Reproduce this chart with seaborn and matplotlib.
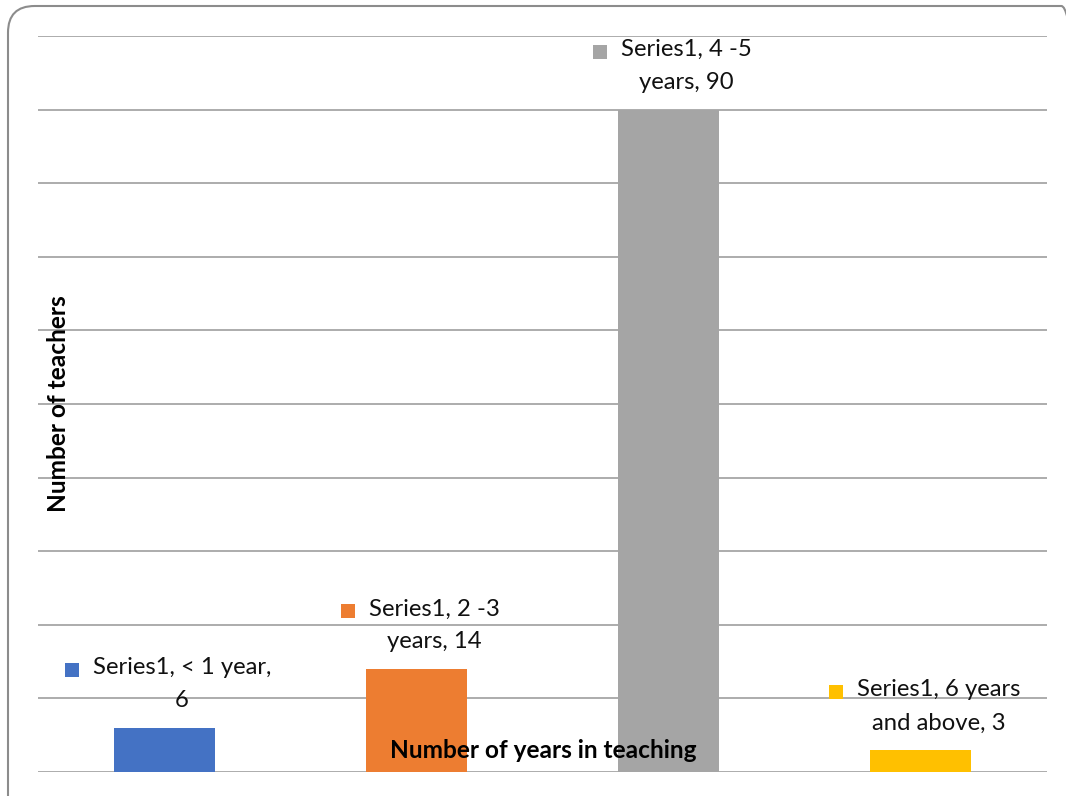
import numpy as np
import pandas as pd
import matplotlib
matplotlib.use("Agg")
import matplotlib.pyplot as plt
from matplotlib.patches import FancyBboxPatch, Rectangle
import seaborn as sns

# data
categories = ["< 1 year", "2 -3 years", "4 -5 years", "6 years and above"]
teachers = [6, 14, 90, 3]
colors = ["#4472c4", "#ed7d31", "#a5a5a5", "#ffc000"]
label_line1 = ["Series1, < 1 year,", "Series1, 2 -3", "Series1, 4 -5", "Series1, 6 years"]
label_line2 = ["6", "years, 14", "years, 90", "and above, 3"]

sns.set_style("white")
plt.rcParams['font.family'] = ['Lato', 'DejaVu Sans']

W, H = 1066, 796
fig = plt.figure(figsize=(W / 100, H / 100), dpi=100)
ax = fig.add_axes([38 / W, 24 / H, (1047 - 38) / W, (772 - 36) / H])

df = pd.DataFrame({"years": categories, "count": teachers})
sns.barplot(data=df, x="years", y="count", hue="years", palette=colors,
            width=0.4, saturation=1, legend=False, linewidth=0, ax=ax)

ax.set_ylim(0, 100)
ax.set_xlim(-0.5, 3.5)
ax.set_yticks(np.arange(0, 101, 10))
ax.yaxis.grid(True, color="#a6a6a6", linewidth=1.3)
ax.set_axisbelow(True)
ax.tick_params(left=False, bottom=False, labelleft=False, labelbottom=False)
for s in ax.spines.values():
    s.set_visible(False)
ax.set_xlabel("")
ax.set_ylabel("")

# axis titles sit inside the plot area
fig.text(543 / W, 1 - 751 / H, "Number of years in teaching", ha="center", va="center",
         fontsize=17.6, fontweight="bold", color="black")
fig.text(59 / W, 1 - 404 / H, "Number of teachers", ha="center", va="center",
         rotation=90, fontsize=17.6, fontweight="bold", color="black")

# data labels
line1_texts = []
for i, v in enumerate(teachers):
    t1 = ax.annotate(label_line1[i], xy=(i, v), xytext=(18, 60), textcoords="offset pixels",
                     ha="center", va="center", fontsize=17.2, color="#111111")
    ax.annotate(label_line2[i], xy=(i, v), xytext=(18, 27), textcoords="offset pixels",
                ha="center", va="center", fontsize=17.2, color="#111111")
    line1_texts.append(t1)

fig.canvas.draw()
r = fig.canvas.get_renderer()
for i, t1 in enumerate(line1_texts):
    bb = t1.get_window_extent(r)
    size = 14
    x0 = bb.x0 - 14 - size
    yc = (bb.y0 + bb.y1) / 2 - 2
    fig.patches.append(Rectangle((x0 / W, (yc - size / 2) / H), size / W, size / H,
                                 transform=fig.transFigure, facecolor=colors[i],
                                 edgecolor="none"))

# rounded frame around the chart
frame = FancyBboxPatch((8 / W, -30 / H), (1088 - 8) / W, (H - 6 + 30) / H,
                       boxstyle="round,pad=0,rounding_size=0.025",
                       transform=fig.transFigure, facecolor="none",
                       edgecolor="#8c8c8c", linewidth=1.5, mutation_aspect=W / H)
fig.patches.append(frame)

fig.savefig("out.png", dpi=100)
